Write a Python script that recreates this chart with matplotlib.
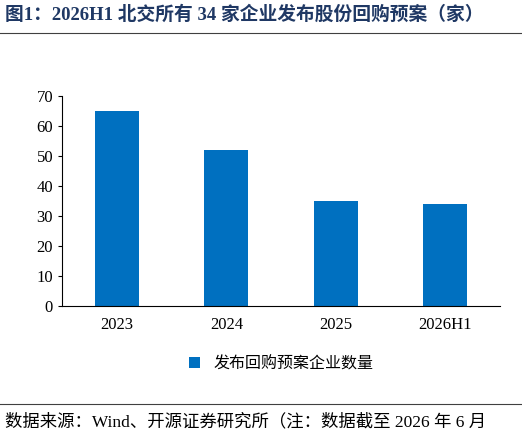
import matplotlib
matplotlib.use("Agg")
import matplotlib.pyplot as plt
from matplotlib.lines import Line2D

categories = ["2023", "2024", "2025", "2026H1"]
values = [65, 52, 35, 34]
series_name = "发布回购预案企业数量"
title = "图1：2026H1 北交所有 34 家企业发布股份回购预案（家）"
source = "数据来源：Wind、开源证券研究所（注：数据截至 2026 年 6 月"

fam = ["Liberation Serif", "Noto Sans CJK SC"]
plt.rcParams["font.family"] = fam

fig = plt.figure(figsize=(5.22, 4.36), dpi=100)
ax = fig.add_axes([0.119, 0.298, 0.839, 0.482])
ax.bar(categories, values, width=0.4, color="#0070C0", label=series_name)
ax.set_ylim(0, 70)
ax.set_yticks(range(0, 71, 10))
ax.set_xlim(-0.5, 3.5)
for s in ["top", "right"]:
    ax.spines[s].set_visible(False)
ax.tick_params(axis="y", labelsize=12, direction="out", length=3)
ax.tick_params(axis="x", labelsize=12, length=0, pad=8)
ax.legend(loc="upper center", bbox_to_anchor=(0.5, -0.17), frameon=False,
          handlelength=0.7, handleheight=0.7, prop={"family": fam, "size": 11.5})

fig.text(0.01, 0.967, title, fontsize=13.5, fontweight="bold", color="#1F3864",
         va="center", ha="left")
fig.add_artist(Line2D([0.0, 1.0], [0.925, 0.925], color="#404040", lw=0.8))
fig.add_artist(Line2D([0.0, 1.0], [0.073, 0.073], color="#404040", lw=0.8))
fig.text(0.01, 0.032, source, fontsize=12.5, va="center", ha="left", color="black")

fig.savefig("out.png", dpi=100)
